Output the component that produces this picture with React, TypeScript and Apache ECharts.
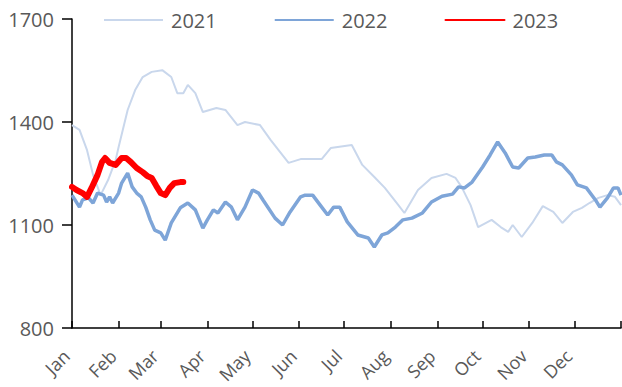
import React, { useEffect, useRef } from "react";
import * as echarts from "echarts";

// Month labels and the day-of-year on which each month starts
const MONTHS = ["Jan", "Feb", "Mar", "Apr", "May", "Jun", "Jul", "Aug", "Sep", "Oct", "Nov", "Dec"];
const MONTH_START = [0, 31, 59, 90, 120, 151, 181, 212, 243, 273, 304, 334];
const YEAR_END = 365;

const Y_MIN = 800;
const Y_MAX = 1700;
const Y_STEP = 300;

// [day of year, value]
const SERIES_2021: [number, number][] = [
  [0, 1391], [5, 1377], [10, 1318], [14, 1246], [19, 1187], [24, 1231], [29, 1289],
  [31, 1327], [37, 1435], [42, 1493], [47, 1531], [53, 1546], [60, 1551], [66, 1531],
  [70, 1484], [74, 1484], [77, 1508], [82, 1484], [87, 1429], [96, 1441], [102, 1435],
  [110, 1391], [115, 1400], [125, 1391], [132, 1348], [144, 1281], [152, 1292],
  [166, 1292], [172, 1324], [186, 1333], [193, 1275], [201, 1240], [208, 1208],
  [217, 1158], [221, 1135], [230, 1202], [239, 1237], [249, 1249], [255, 1237],
  [259, 1211], [265, 1158], [270, 1094], [279, 1115], [285, 1094], [290, 1080],
  [293, 1100], [299, 1065], [306, 1106], [313, 1155], [320, 1138], [326, 1106],
  [333, 1138], [339, 1150], [344, 1164], [350, 1179], [356, 1187], [361, 1182], [365, 1158],
];

const SERIES_2022: [number, number][] = [
  [0, 1187], [2, 1173], [5, 1152], [7, 1173], [11, 1179], [14, 1164], [17, 1193],
  [21, 1187], [23, 1167], [25, 1182], [27, 1164], [31, 1193], [33, 1222], [37, 1251],
  [40, 1211], [43, 1193], [46, 1182], [49, 1152], [52, 1115], [55, 1085], [59, 1077],
  [62, 1056], [66, 1106], [72, 1150], [77, 1164], [82, 1144], [87, 1091], [90, 1115],
  [94, 1144], [97, 1135], [102, 1167], [106, 1152], [110, 1115], [115, 1152],
  [120, 1202], [124, 1193], [127, 1173], [135, 1120], [140, 1100], [145, 1138],
  [152, 1182], [155, 1187], [160, 1187], [165, 1158], [170, 1129], [174, 1152],
  [178, 1152], [183, 1109], [190, 1071], [197, 1062], [201, 1036], [206, 1071],
  [210, 1077], [215, 1094], [220, 1115], [226, 1120], [233, 1135], [239, 1167],
  [246, 1184], [253, 1190], [257, 1211], [261, 1208], [266, 1225], [273, 1269],
  [278, 1304], [283, 1342], [288, 1310], [293, 1269], [297, 1266], [303, 1295],
  [308, 1298], [314, 1304], [319, 1304], [322, 1284], [326, 1275], [332, 1246],
  [336, 1217], [342, 1208], [348, 1173], [351, 1152], [356, 1179], [360, 1208],
  [363, 1208], [365, 1187],
];

const SERIES_2023: [number, number][] = [
  [0, 1211], [3, 1202], [7, 1193], [10, 1182], [13, 1208], [17, 1246], [20, 1284],
  [22, 1295], [25, 1281], [29, 1275], [33, 1295], [36, 1295], [39, 1284], [43, 1266],
  [47, 1254], [50, 1243], [53, 1237], [56, 1214], [59, 1193], [62, 1187], [65, 1208],
  [68, 1222], [72, 1225], [74, 1225],
];

const FONT = "'Open Sans', sans-serif";
const LABEL_COLOR = "#595959";

export default function App() {
  const ref = useRef<HTMLDivElement>(null);

  useEffect(() => {
    document.body.style.margin = "0";
    if (!ref.current) return;
    const chart = echarts.init(ref.current, undefined, { renderer: "svg" });

    const days = Array.from({ length: YEAR_END + 1 }, (_, i) => String(i));
    const tickDays = [...MONTH_START, YEAR_END];

    chart.setOption({
      animation: false,
      backgroundColor: "#ffffff",
      grid: { left: 72, right: 1, top: 19, bottom: 59, containLabel: false, outerBoundsMode: "none" },
      legend: {
        top: 5,
        left: 98,
        itemWidth: 59,
        itemHeight: 14,
        itemGap: 57,
        itemStyle: { opacity: 0 },
        textStyle: { fontFamily: FONT, fontSize: 20, color: LABEL_COLOR, padding: [0, 0, 0, 3] },
        data: ["2021", "2022", "2023"],
      },
      xAxis: {
        type: "category",
        data: days,
        boundaryGap: false,
        axisLine: { lineStyle: { color: "#000000", width: 1.5 } },
        axisTick: {
          inside: true,
          length: 7,
          lineStyle: { color: "#000000", width: 1.5 },
          interval: (index: number) => tickDays.includes(index),
        },
        axisLabel: {
          interval: (index: number) => MONTH_START.includes(index),
          formatter: (value: string) => {
            const i = MONTH_START.indexOf(Number(value));
            return i >= 0 ? MONTHS[i] : "";
          },
          rotate: 45,
          margin: 19,
          padding: [0, 8, 0, 0],
          fontFamily: FONT,
          fontSize: 18,
          color: LABEL_COLOR,
        },
        splitLine: { show: false },
      },
      yAxis: {
        type: "value",
        min: Y_MIN,
        max: Y_MAX,
        interval: Y_STEP,
        axisLine: { show: true, lineStyle: { color: "#000000", width: 1.5 } },
        axisTick: { show: true, length: 10, lineStyle: { color: "#000000", width: 1.5 } },
        axisLabel: {
          margin: 18,
          fontFamily: FONT,
          fontSize: 20,
          color: LABEL_COLOR,
          formatter: (v: number) => String(v),
        },
        splitLine: { show: false },
      },
      series: [
        {
          name: "2021",
          type: "line",
          data: SERIES_2021,
          symbol: "none",
          lineStyle: { color: "#c9d7ec", width: 2 },
          itemStyle: { color: "#c9d7ec" },
          z: 1,
        },
        {
          name: "2022",
          type: "line",
          data: SERIES_2022,
          symbol: "none",
          lineStyle: { color: "#7ea5d8", width: 3.5 },
          itemStyle: { color: "#7ea5d8" },
          z: 2,
        },
        {
          name: "2023",
          type: "line",
          data: SERIES_2023,
          symbol: "none",
          lineStyle: { color: "#ff0000", width: 6, cap: "round", join: "round" },
          itemStyle: { color: "#ff0000" },
          z: 3,
        },
      ],
    });

    return () => chart.dispose();
  }, []);

  return <div ref={ref} style={{ width: 622, height: 387 }} />;
}
